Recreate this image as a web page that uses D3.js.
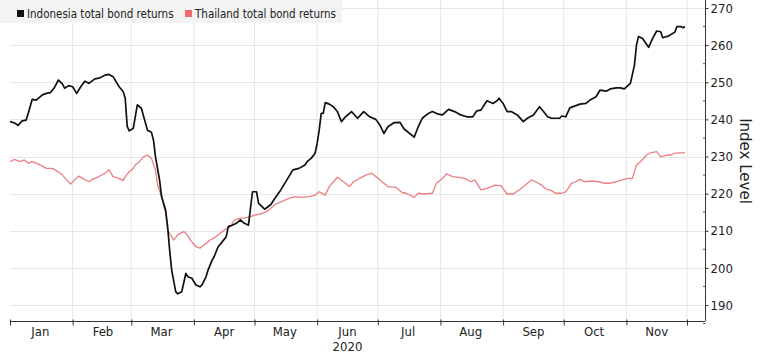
<!DOCTYPE html>
<html>
<head>
<meta charset="utf-8">
<script src="https://cdn.jsdelivr.net/npm/d3@7"></script>
<style>
  html, body { margin: 0; padding: 0; background: #ffffff; }
  svg { display: block; }
</style>
</head>
<body>
<svg id="chart" width="760" height="354"></svg>
<script>
// ---------------- DATA ----------------
const seriesNames = ["Indonesia total bond returns", "Thailand total bond returns"];

const indoDates = [
  "2020-01-01","2020-01-03","2020-01-05","2020-01-07","2020-01-09","2020-01-10","2020-01-12","2020-01-14",
  "2020-01-17","2020-01-19","2020-01-21","2020-01-23","2020-01-25","2020-01-27","2020-01-28","2020-01-30",
  "2020-02-01","2020-02-03","2020-02-05","2020-02-07","2020-02-09","2020-02-12","2020-02-14","2020-02-17",
  "2020-02-19","2020-02-21","2020-02-24","2020-02-26","2020-02-27","2020-02-28","2020-02-29","2020-03-02",
  "2020-03-04","2020-03-06","2020-03-09","2020-03-11","2020-03-12","2020-03-13","2020-03-15","2020-03-16",
  "2020-03-18","2020-03-19","2020-03-20","2020-03-21","2020-03-23","2020-03-24","2020-03-26","2020-03-28",
  "2020-03-29","2020-03-31","2020-04-02","2020-04-04","2020-04-05","2020-04-07","2020-04-08","2020-04-10",
  "2020-04-11","2020-04-13","2020-04-15","2020-04-17","2020-04-18","2020-04-20","2020-04-22","2020-04-24",
  "2020-04-26","2020-04-28","2020-04-30","2020-05-02","2020-05-03","2020-05-06","2020-05-09","2020-05-11",
  "2020-05-14","2020-05-17","2020-05-20","2020-05-23","2020-05-26","2020-05-27","2020-05-29","2020-05-31",
  "2020-06-01","2020-06-02","2020-06-03","2020-06-04","2020-06-05","2020-06-07","2020-06-09","2020-06-11",
  "2020-06-13","2020-06-15","2020-06-18","2020-06-21","2020-06-24","2020-06-27","2020-06-30","2020-07-02",
  "2020-07-04","2020-07-06","2020-07-09","2020-07-12","2020-07-14","2020-07-19","2020-07-21","2020-07-23",
  "2020-07-26","2020-07-28","2020-07-31","2020-08-02","2020-08-05","2020-08-08","2020-08-11","2020-08-14",
  "2020-08-17","2020-08-19","2020-08-21","2020-08-24","2020-08-27","2020-08-29","2020-08-30","2020-09-01",
  "2020-09-03","2020-09-05","2020-09-08","2020-09-11","2020-09-13","2020-09-16","2020-09-19","2020-09-21",
  "2020-09-23","2020-09-25","2020-09-29","2020-09-30","2020-10-02","2020-10-04","2020-10-07","2020-10-09",
  "2020-10-12","2020-10-14","2020-10-17","2020-10-19","2020-10-22","2020-10-24","2020-10-27","2020-10-29",
  "2020-10-31","2020-11-03","2020-11-05","2020-11-06","2020-11-07","2020-11-09","2020-11-12","2020-11-14",
  "2020-11-16","2020-11-18","2020-11-19","2020-11-22","2020-11-25","2020-11-26","2020-11-28","2020-11-29",
  "2020-11-30"
];
const indoValues = [
  239.4,239.1,238.4,239.6,239.8,241.6,245.4,245.2,
  246.6,247.0,247.2,248.6,250.6,249.5,248.4,249.1,
  248.8,247.0,248.8,250.3,249.7,250.9,251.1,251.9,
  252.1,251.5,248.8,247.5,245.7,238.1,236.9,237.6,
  243.9,243.0,237.1,236.5,234.4,229.9,223.7,219.2,
  215.6,211.1,204.8,199.4,193.6,193.0,193.6,198.5,
  197.6,197.2,195.4,194.9,195.4,197.6,199.4,202.1,
  203.0,205.7,207.0,208.4,211.1,211.5,212.0,212.9,
  212.0,211.5,220.5,220.5,217.4,215.8,217.0,218.7,
  221.0,223.7,226.4,226.8,227.7,228.6,229.5,230.9,
  233.6,237.1,241.6,241.6,244.5,244.1,243.4,242.1,
  239.4,240.7,242.1,240.3,242.1,240.7,240.0,238.5,
  236.2,238.0,239.1,239.2,237.4,235.2,238.0,240.3,
  241.6,242.1,241.4,241.2,242.7,242.1,241.2,240.7,
  240.7,242.3,242.5,245.0,244.3,245.0,245.7,244.3,
  242.1,242.1,241.2,239.4,240.3,241.2,243.4,242.1,
  240.7,240.3,240.3,240.9,240.7,243.1,243.7,244.1,
  244.3,245.2,246.1,247.9,247.6,248.2,248.5,248.5,
  248.2,249.7,254.6,260.0,262.3,261.8,259.4,261.8,
  263.8,263.6,262.0,262.5,263.5,265.0,265.0,264.7,
  265.0
];

const thaiDates = [
  "2020-01-01","2020-01-03","2020-01-06","2020-01-08","2020-01-10","2020-01-12","2020-01-14","2020-01-17",
  "2020-01-19","2020-01-22","2020-01-24","2020-01-27","2020-01-29","2020-01-31","2020-02-02","2020-02-04",
  "2020-02-06","2020-02-09","2020-02-11","2020-02-14","2020-02-17","2020-02-19","2020-02-21","2020-02-24",
  "2020-02-26","2020-02-27","2020-02-29","2020-03-02","2020-03-03","2020-03-05","2020-03-07","2020-03-09",
  "2020-03-11","2020-03-13","2020-03-14","2020-03-16","2020-03-18","2020-03-19","2020-03-22","2020-03-24",
  "2020-03-27","2020-03-28","2020-03-31","2020-04-02","2020-04-04","2020-04-07","2020-04-09","2020-04-11",
  "2020-04-14","2020-04-16","2020-04-19","2020-04-21","2020-04-24","2020-04-26","2020-04-29","2020-05-01",
  "2020-05-05","2020-05-08","2020-05-11","2020-05-14","2020-05-18","2020-05-21","2020-05-24","2020-05-28",
  "2020-05-31","2020-06-02","2020-06-05","2020-06-07","2020-06-11","2020-06-14","2020-06-17","2020-06-19",
  "2020-06-22","2020-06-25","2020-06-28","2020-06-30","2020-07-04","2020-07-06","2020-07-10","2020-07-13",
  "2020-07-15","2020-07-19","2020-07-21","2020-07-24","2020-07-28","2020-07-30","2020-08-02","2020-08-04",
  "2020-08-07","2020-08-10","2020-08-13","2020-08-16","2020-08-18","2020-08-21","2020-08-24","2020-08-28",
  "2020-08-31","2020-09-03","2020-09-06","2020-09-09","2020-09-12","2020-09-15","2020-09-17","2020-09-20",
  "2020-09-22","2020-09-25","2020-09-27","2020-09-30","2020-10-02","2020-10-05","2020-10-07","2020-10-09",
  "2020-10-11","2020-10-15","2020-10-18","2020-10-21","2020-10-24","2020-10-27","2020-10-30","2020-11-02",
  "2020-11-04","2020-11-06","2020-11-08","2020-11-11","2020-11-13","2020-11-16","2020-11-18","2020-11-21",
  "2020-11-23","2020-11-25","2020-11-28","2020-11-30"
];
const thaiValues = [
  228.6,229.2,228.6,229.1,228.2,228.6,228.2,227.4,
  226.8,226.8,226.2,225.0,223.7,222.6,223.7,224.7,
  224.1,223.2,223.9,224.6,225.5,226.4,224.6,224.1,
  223.5,224.6,225.9,226.8,227.7,228.6,229.9,230.4,
  229.5,226.4,222.4,219.2,214.7,210.2,207.5,208.9,
  209.8,209.3,207.0,205.7,205.3,206.6,207.5,208.0,
  209.3,210.2,211.1,212.9,213.4,213.4,213.8,214.2,
  214.7,215.5,217.0,217.8,218.7,219.2,219.0,219.2,
  219.6,220.5,219.6,221.9,224.4,223.2,221.9,223.2,
  224.1,225.0,225.5,224.6,222.8,221.9,221.7,220.3,
  220.1,219.0,220.1,219.9,220.1,222.8,224.1,225.3,
  224.6,224.4,224.1,223.2,223.7,221.0,221.4,222.3,
  222.1,219.9,219.9,221.0,222.3,223.7,223.2,222.3,
  221.3,220.8,220.1,220.1,220.5,222.8,223.2,223.9,
  223.2,223.4,223.2,222.8,222.8,223.2,223.7,224.1,
  224.1,227.7,228.6,230.4,231.0,231.3,229.9,230.4,
  230.4,230.9,231.0,231.0
];

const yTicks = [190, 200, 210, 220, 230, 240, 250, 260, 270];
const yMinorTicks = [185, 195, 205, 215, 225, 235, 245, 255, 265];
const monthLabels = ["Jan","Feb","Mar","Apr","May","Jun","Jul","Aug","Sep","Oct","Nov"];
const yearLabel = "2020";
const yAxisTitle = "Index Level";

// ---------------- DRAW ----------------
const parse = d3.timeParse("%Y-%m-%d");
const indo = indoDates.map((d, i) => ({date: parse(d), value: indoValues[i]}));
const thai = thaiDates.map((d, i) => ({date: parse(d), value: thaiValues[i]}));

const plotLeft = 10, plotRight = 705, plotTop = 0, plotBottom = 321;

const x = d3.scaleTime()
  .domain([new Date(2020, 0, 1), new Date(2020, 11, 1)])
  .range([10, 687]);
const y = d3.scaleLinear().domain([190, 270]).range([305, 8]);

const svg = d3.select("#chart");
const tickFont = "'DejaVu Sans Condensed', 'Liberation Sans Narrow', sans-serif";

// gridlines
const monthStarts = d3.timeMonth.range(new Date(2020, 0, 1), new Date(2020, 11, 2));
svg.append("g").selectAll("line.vg")
  .data(monthStarts.slice(1))
  .join("line")
  .attr("x1", d => x(d)).attr("x2", d => x(d))
  .attr("y1", plotTop).attr("y2", plotBottom)
  .attr("stroke", "#e6e6e6").attr("stroke-width", 1);
svg.append("g").selectAll("line.hg")
  .data(yTicks)
  .join("line")
  .attr("x1", plotLeft).attr("x2", plotRight)
  .attr("y1", d => Math.round(y(d)) + 0.5).attr("y2", d => Math.round(y(d)) + 0.5)
  .attr("stroke", "#e6e6e6").attr("stroke-width", 1);

// legend background
svg.append("rect")
  .attr("x", 0).attr("y", 0).attr("width", 342).attr("height", 23)
  .attr("fill", "#f3f3f3");

// lines
const line = d3.line().x(d => x(d.date)).y(d => y(d.value)).curve(d3.curveLinear);
svg.append("path").datum(thai)
  .attr("d", line).attr("fill", "none")
  .attr("stroke", "#ea7f82").attr("stroke-width", 1.3).attr("stroke-linejoin", "round");
svg.append("path").datum(indo)
  .attr("d", line).attr("fill", "none")
  .attr("stroke", "#111111").attr("stroke-width", 1.7).attr("stroke-linejoin", "round");

// right axis
const yAxis = d3.axisRight(y).tickValues(yTicks).tickSize(3).tickPadding(2).tickFormat(d3.format("d"));
const gy = svg.append("g").attr("transform", `translate(${plotRight + 0.5},0)`).call(yAxis);
gy.select(".domain").attr("d", `M0,${plotTop}V${plotBottom}`).attr("stroke", "#333");
gy.selectAll(".tick line").attr("stroke", "#333");
gy.selectAll(".tick text").attr("font-family", tickFont).attr("font-size", 13).attr("fill", "#222");
// minor ticks
svg.append("g").selectAll("line")
  .data(yMinorTicks)
  .join("line")
  .attr("x1", plotRight - 2).attr("x2", plotRight + 0.5)
  .attr("y1", d => y(d)).attr("y2", d => y(d))
  .attr("stroke", "#555");

// bottom axis
const xAxis = d3.axisBottom(x).tickValues(monthStarts).tickSize(4).tickFormat("");
const gx = svg.append("g").attr("transform", `translate(0,${plotBottom + 0.5})`).call(xAxis);
gx.select(".domain").attr("d", `M${plotLeft},0H${plotRight}`).attr("stroke", "#333");
gx.selectAll(".tick line").attr("stroke", "#333").attr("y1", -2);

const monthMids = monthLabels.map((m, i) => new Date(2020, i, 16));
svg.append("g").selectAll("text")
  .data(monthLabels)
  .join("text")
  .attr("x", (d, i) => x(monthMids[i]))
  .attr("y", 336)
  .attr("text-anchor", "middle")
  .attr("font-family", tickFont).attr("font-size", 13).attr("fill", "#222")
  .text(d => d);
svg.append("text")
  .attr("x", x(new Date(2020, 5, 16)))
  .attr("y", 351)
  .attr("text-anchor", "middle")
  .attr("font-family", tickFont).attr("font-size", 13).attr("fill", "#222")
  .text(yearLabel);

// axis title
svg.append("text")
  .attr("transform", "translate(740,161) rotate(90)")
  .attr("text-anchor", "middle")
  .attr("font-family", "'DejaVu Sans', sans-serif").attr("font-size", 15).attr("fill", "#222")
  .text(yAxisTitle);

// legend
const legendColors = ["#111111", "#ef6b70"];
const legendX = [17, 185];
const lg = svg.append("g");
seriesNames.forEach((name, i) => {
  lg.append("rect").attr("x", legendX[i]).attr("y", 10).attr("width", 7).attr("height", 7).attr("fill", legendColors[i]);
  lg.append("text").attr("x", legendX[i] + 10).attr("y", 17.5)
    .attr("font-family", tickFont).attr("font-size", 11.5).attr("fill", "#222")
    .text(name);
});
</script>
</body>
</html>
